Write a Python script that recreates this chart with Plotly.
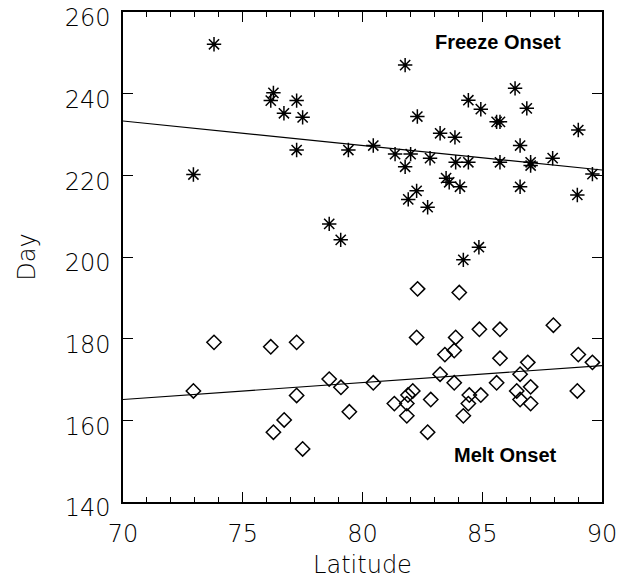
import plotly.graph_objects as go

# Freeze onset (day of year) against latitude
freeze_lat = [73.8, 76.28, 76.17, 76.72, 77.25, 77.5, 77.25, 79.41, 72.94, 78.61,
              79.09, 80.45, 81.78, 81.36, 82.01, 81.78, 82.82, 82.29, 83.24, 83.86,
              83.89, 84.42, 84.42, 84.94, 85.6, 85.74, 85.74, 86.37, 86.86, 86.58,
              87.02, 87.02, 87.94, 89.01, 89.6, 88.97, 86.58, 83.49, 83.62, 84.07,
              82.26, 81.91, 82.72, 84.86, 84.21]
freeze_day = [252.1, 240.2, 238.3, 235.2, 238.3, 234.2, 226.2, 226.2, 220.2, 208.1,
              204.2, 227.3, 247.0, 225.2, 225.2, 222.1, 224.2, 234.4, 230.3, 229.3,
              223.2, 223.2, 238.4, 236.2, 233.1, 233.1, 223.2, 241.3, 236.4, 227.3,
              223.2, 222.4, 224.2, 231.1, 220.3, 215.2, 217.2, 219.3, 218.3, 217.2,
              216.2, 214.1, 212.2, 202.4, 199.3]

# Melt onset (day of year) against latitude
melt_lat = [73.8, 76.17, 77.25, 72.94, 78.61, 79.1, 77.25, 79.45, 76.73, 76.28,
            77.5, 80.45, 82.3, 84.04, 82.26, 83.89, 84.88, 85.74, 87.97, 83.44,
            83.83, 85.74, 86.9, 89.01, 89.6, 83.24, 83.83, 85.6, 86.58, 82.1,
            81.9, 81.33, 81.85, 81.85, 82.85, 84.46, 84.42, 84.21, 84.94, 86.44,
            86.58, 87.02, 87.02, 88.97, 82.72]
melt_day = [179.1, 178.0, 179.1, 167.2, 170.1, 168.1, 166.1, 162.1, 160.1, 157.1,
            153.0, 169.2, 192.2, 191.3, 180.3, 180.3, 182.3, 182.3, 183.3, 176.1,
            177.1, 175.2, 174.2, 176.1, 174.2, 171.3, 169.2, 169.2, 171.3, 167.2,
            166.2, 164.1, 164.1, 161.1, 165.1, 166.2, 164.1, 161.1, 166.2, 167.2,
            165.1, 168.2, 164.1, 167.2, 157.1]

# Linear fits evaluated at the ends of the latitude range
fit_lat = [70, 90]
freeze_fit = [233.3, 221.3]
melt_fit = [165.1, 173.4]

x_ticks = [70, 75, 80, 85, 90]
x_minor_ticks = [v for v in range(71, 90) if v % 5 != 0]
y_ticks = [140, 160, 180, 200, 220, 240, 260]

thin_font = dict(family="DejaVu Sans", size=24, color="black", weight=200)
label_font = dict(family="Liberation Sans", size=20, color="black", weight="bold")

fig = go.Figure()
fig.add_trace(go.Scatter(x=fit_lat, y=freeze_fit, mode="lines",
                         line=dict(color="black", width=1.2), showlegend=False))
fig.add_trace(go.Scatter(x=fit_lat, y=melt_fit, mode="lines",
                         line=dict(color="black", width=1.2), showlegend=False))
fig.add_trace(go.Scatter(x=freeze_lat, y=freeze_day, mode="markers",
                         marker=dict(symbol="asterisk-open", size=12, color="black",
                                     line=dict(color="black", width=1.5)),
                         showlegend=False))
fig.add_trace(go.Scatter(x=melt_lat, y=melt_day, mode="markers",
                         marker=dict(symbol="diamond-open", size=11, color="black",
                                     line=dict(color="black", width=1.5)),
                         showlegend=False))

fig.add_annotation(x=85.66, y=252.65, text="Freeze Onset", showarrow=False,
                   font=label_font)
fig.add_annotation(x=85.95, y=151.5, text="Melt Onset", showarrow=False,
                   font=label_font)

fig.update_xaxes(range=[70, 90], tickvals=x_ticks, ticks="inside", ticklen=10,
                 tickwidth=1.2, tickcolor="black", mirror="ticks",
                 showline=True, linecolor="black", linewidth=1.5,
                 showgrid=False, zeroline=False, tickfont=thin_font,
                 ticklabelstandoff=9, automargin=False, ticklabeloverflow="allow",
                 minor=dict(ticks="inside", tickvals=x_minor_ticks, ticklen=5,
                            tickwidth=1.2, tickcolor="black", showgrid=False),
                 title=dict(text="Latitude", font=thin_font, standoff=10))
fig.update_yaxes(range=[140, 260], tickvals=y_ticks, ticks="inside", ticklen=10,
                 tickwidth=1.2, tickcolor="black", mirror="ticks",
                 showline=True, linecolor="black", linewidth=1.5,
                 showgrid=False, zeroline=False, tickfont=thin_font,
                 ticklabelstandoff=6, ticklabelshift=6, automargin=False,
                 ticklabeloverflow="allow",
                 title=dict(text="Day", font=thin_font, standoff=22))

fig.update_layout(width=624, height=582, paper_bgcolor="white", plot_bgcolor="white",
                  margin=dict(l=123, r=22, t=12, b=80))

fig.write_html("out.html")
